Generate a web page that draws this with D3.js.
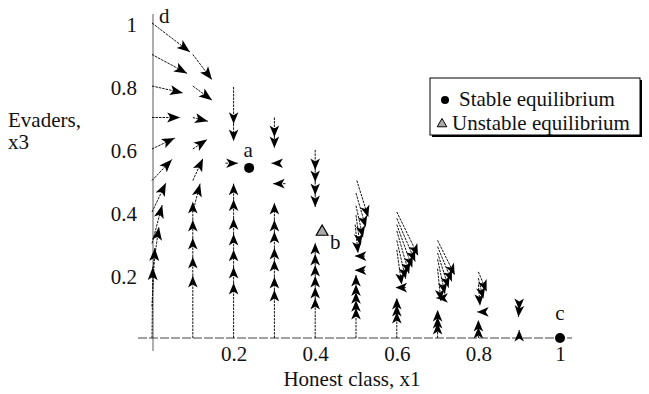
<!DOCTYPE html>
<html>
<head>
<meta charset="utf-8">
<script src="https://cdn.jsdelivr.net/npm/d3@7"></script>
<style>
  body { margin: 0; background: #fff; }
  svg text { font-family: "Liberation Serif", "Times New Roman", serif; fill: #111; font-size: 21px; }
  .legend text { font-size: 21px; }
</style>
</head>
<body>
<div id="chart"></div>
<script>
// ---- data (x1 = honest class, x3 = evaders) ----
const xTicks = [0.2, 0.4, 0.6, 0.8, 1];
const yTicks = [0.2, 0.4, 0.6, 0.8, 1];

// arrows starting on the x3 axis (x1 = 0)
const edgeBaseX3 = [1, 0.9, 0.8, 0.7, 0.6, 0.5, 0.4, 0.3, 0.2, 0.1, 0];
const edgeDx = [0.093, 0.086, 0.076, 0.069, 0.056, 0.049, 0.034, 0.025, 0.017, 0.007, 0.002];
const edgeDy = [-0.092, -0.06, -0.022, 0, 0.035, 0.067, 0.092, 0.122, 0.152, 0.186, 0.225];

// single arrows in the x1 = 0.1 column
const col1BaseX3 = [0.9, 0.8, 0.7, 0.6, 0.5, 0.4];
const col1Dx = [0.047, 0.047, 0.037, 0.035, 0.025, 0.018];
const col1Dy = [-0.08, -0.045, -0.012, 0.03, 0.07, 0.09];

// chains rising from the x1 axis: arrowhead heights per column
const upCols = [0.1, 0.2, 0.3, 0.4, 0.5, 0.6, 0.7, 0.8, 0.9];
const upHeads = [
  [0.197, 0.257, 0.317, 0.375, 0.432],
  [0.175, 0.225, 0.28, 0.33, 0.38, 0.44, 0.49],
  [0.152, 0.194, 0.248, 0.286, 0.337, 0.375, 0.429],
  [0.127, 0.162, 0.197, 0.232, 0.267, 0.302],
  [0.095, 0.12, 0.145, 0.17, 0.2],
  [0.083, 0.105, 0.127],
  [0.048, 0.067, 0.089],
  [0.035, 0.057],
  [0.025]
];

// chains falling from above
const downCols = [0.2, 0.3, 0.4];
const downStart = [0.797, 0.70, 0.597];
const downHeads = [[0.68, 0.625], [0.638, 0.603], [0.533, 0.495, 0.454, 0.416]];

// short sideways arrows (tip position and signed length)
const sideTipX1 = [0.21, 0.297, 0.293, 0.497, 0.497, 0.597, 0.697, 0.797];
const sideX3 = [0.555, 0.49, 0.555, 0.215, 0.26, 0.16, 0.127, 0.083];
const sideDx = [0.03, -0.03, -0.02, -0.025, -0.025, -0.025, -0.02, -0.02];

// slanted arrows in the lower right
const slantBaseX1 = [0.502, 0.5, 0.5, 0.5, 0.498,
  0.6, 0.6, 0.6, 0.6, 0.6, 0.6,
  0.7, 0.7, 0.7, 0.7, 0.7,
  0.8, 0.8, 0.8, 0.9, 0.9];
const slantBaseX3 = [0.5, 0.46, 0.42, 0.39, 0.36,
  0.4, 0.38, 0.36, 0.34, 0.31, 0.28,
  0.31, 0.29, 0.27, 0.25, 0.22,
  0.21, 0.19, 0.17, 0.115, 0.095];
const slantTipX1 = [0.53, 0.524, 0.517, 0.51, 0.505,
  0.652, 0.645, 0.638, 0.63, 0.622, 0.612,
  0.742, 0.735, 0.727, 0.718, 0.708,
  0.82, 0.812, 0.804, 0.9, 0.898];
const slantTipX3 = [0.384, 0.352, 0.32, 0.295, 0.27,
  0.262, 0.243, 0.224, 0.205, 0.188, 0.17,
  0.2, 0.18, 0.16, 0.14, 0.118,
  0.148, 0.125, 0.103, 0.089, 0.067];

// equilibria
const stablePts = [{ x1: 0.238, x3: 0.54 }, { x1: 1, x3: 0 }];
const unstablePts = [{ x1: 0.417, x3: 0.337 }];
const pointLabels = ["a", "b", "c", "d"];
const labelX1 = [0.236, 0.449, 1, 0.03];
const labelX3 = [0.575, 0.283, 0.058, 1.0];

// ---- drawing ----
const W = 649, H = 394;
const x = d3.scaleLinear().domain([0, 1]).range([152, 560]);
const y = d3.scaleLinear().domain([0, 1]).range([338, 23]);

const svg = d3.select("#chart").append("svg")
  .attr("width", W)
  .attr("height", H);

// x3 axis (grey) and x1 axis
svg.append("line")
  .attr("x1", x(0) + 1).attr("x2", x(0) + 1)
  .attr("y1", 14).attr("y2", 351)
  .attr("stroke", "#999").attr("stroke-width", 1.6);
svg.append("line")
  .attr("x1", 138).attr("x2", 572)
  .attr("y1", y(0)).attr("y2", y(0))
  .attr("stroke", "#444").attr("stroke-width", 1)
  .attr("stroke-dasharray", "9,2");

const fmt = d => d === 1 ? "1" : d3.format(".1f")(d);

svg.append("g")
  .attr("transform", `translate(0,${y(0)})`)
  .call(d3.axisBottom(x).tickValues(xTicks).tickSize(0).tickPadding(8).tickFormat(fmt))
  .call(g => g.select(".domain").remove());

svg.append("g")
  .attr("transform", `translate(${x(0)},0)`)
  .call(d3.axisLeft(y).tickValues(yTicks).tickSize(0).tickPadding(15).tickFormat(fmt))
  .call(g => g.select(".domain").remove())
  .selectAll("text").attr("dy", "0.4em");

// axis titles
svg.append("text")
  .attr("x", 352).attr("y", 386)
  .attr("text-anchor", "middle")
  .text("Honest class, x1");
svg.append("text").attr("x", 8).attr("y", 127).text("Evaders,");
svg.append("text").attr("x", 8).attr("y", 149).text("x3");

// collect arrows
const arrows = [];
edgeBaseX3.forEach((b, i) => arrows.push({ a: [0, b], b: [edgeDx[i], b + edgeDy[i]], big: true }));
col1BaseX3.forEach((b, i) => arrows.push({ a: [0.1, b], b: [0.1 + col1Dx[i], b + col1Dy[i]], big: true }));
upCols.forEach((c, i) => {
  let prev = 0;
  upHeads[i].forEach(h => { arrows.push({ a: [c, prev], b: [c, h] }); prev = h; });
});
downCols.forEach((c, i) => {
  let prev = downStart[i];
  downHeads[i].forEach(h => { arrows.push({ a: [c, prev], b: [c, h] }); prev = h; });
});
sideTipX1.forEach((t, i) => arrows.push({ a: [t - sideDx[i], sideX3[i]], b: [t, sideX3[i]] }));
slantBaseX1.forEach((b, i) => arrows.push({ a: [b, slantBaseX3[i]], b: [slantTipX1[i], slantTipX3[i]] }));

function headPath(px, py, ang, big) {
  const L = big ? 13 : 11.5, w = big ? 5 : 4.8, n = 3;
  const ca = Math.cos(ang), sa = Math.sin(ang);
  const pts = [[0, 0], [-L, w], [-L + n, 0], [-L, -w]]
    .map(([u, v]) => [px + u * ca - v * sa, py + u * sa + v * ca]);
  return "M" + pts.map(p => p[0].toFixed(1) + "," + p[1].toFixed(1)).join("L") + "Z";
}

const ag = svg.append("g");
ag.selectAll("line.shaft")
  .data(arrows)
  .enter().append("line")
  .attr("class", "shaft")
  .attr("x1", d => x(d.a[0])).attr("y1", d => y(d.a[1]))
  .attr("x2", d => x(d.b[0])).attr("y2", d => y(d.b[1]))
  .attr("stroke", "#111").attr("stroke-width", 1)
  .attr("stroke-dasharray", "2.5,1");

ag.selectAll("path.head")
  .data(arrows)
  .enter().append("path")
  .attr("class", "head")
  .attr("d", d => {
    const px = x(d.b[0]), py = y(d.b[1]);
    const ang = Math.atan2(py - y(d.a[1]), px - x(d.a[0]));
    return headPath(px, py, ang, d.big);
  })
  .attr("fill", "#000");

// equilibria
svg.selectAll("circle.stable")
  .data(stablePts)
  .enter().append("circle")
  .attr("class", "stable")
  .attr("cx", d => x(d.x1)).attr("cy", d => y(d.x3))
  .attr("r", 5).attr("fill", "#000");

const tri = d3.symbol().type(d3.symbolTriangle).size(60);
svg.selectAll("path.unstable")
  .data(unstablePts)
  .enter().append("path")
  .attr("class", "unstable")
  .attr("transform", d => `translate(${x(d.x1)},${y(d.x3)})`)
  .attr("d", tri)
  .attr("fill", "#aaa").attr("stroke", "#000").attr("stroke-width", 1.2);

// point labels
svg.selectAll("text.pt")
  .data(pointLabels)
  .enter().append("text")
  .attr("class", "pt")
  .attr("x", (d, i) => x(labelX1[i]))
  .attr("y", (d, i) => y(labelX3[i]))
  .attr("text-anchor", "middle")
  .text(d => d);

// legend
const lg = svg.append("g").attr("class", "legend");
lg.append("rect").attr("x", 432).attr("y", 80).attr("width", 210).attr("height", 57).attr("fill", "#000");
lg.append("rect").attr("x", 430).attr("y", 78).attr("width", 210).attr("height", 57)
  .attr("fill", "#fff").attr("stroke", "#000").attr("stroke-width", 1);
lg.append("circle").attr("cx", 445).attr("cy", 100).attr("r", 4).attr("fill", "#000");
lg.append("text").attr("x", 459).attr("y", 106).text("Stable equilibrium");
lg.append("path").attr("transform", "translate(442,124)")
  .attr("d", d3.symbol().type(d3.symbolTriangle).size(40))
  .attr("fill", "#aaa").attr("stroke", "#000").attr("stroke-width", 1);
lg.append("text").attr("x", 452).attr("y", 130).text("Unstable equilibrium");
</script>
</body>
</html>
